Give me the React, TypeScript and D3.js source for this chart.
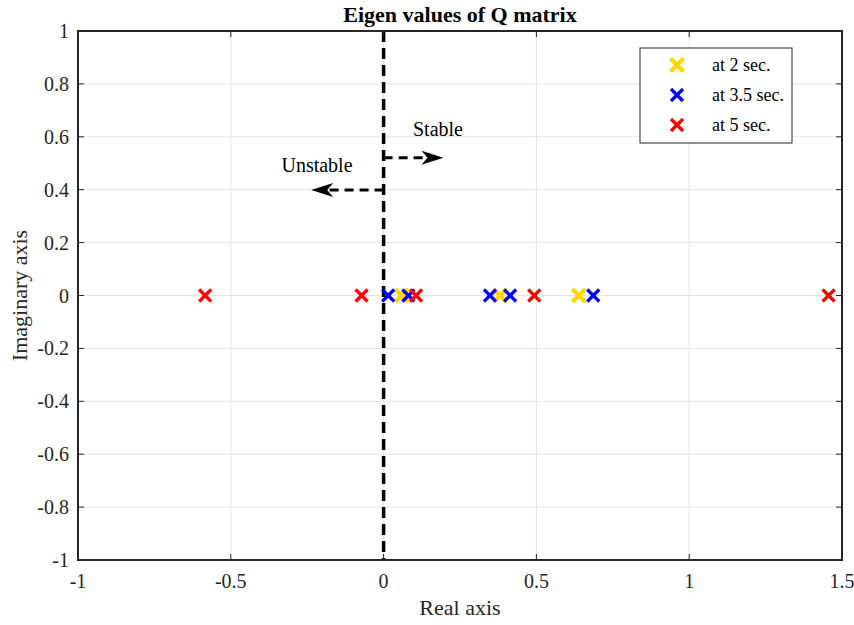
import React from "react";
import * as d3 from "d3";

// Eigenvalues (real parts; all imaginary parts are zero) at three time instants
const eig2s = [0.059, 0.381, 0.639];
const eig35s = [0.015, 0.081, 0.348, 0.414, 0.686];
const eig5s = [-0.584, -0.072, 0.106, 0.493, 1.456];

const xTicks = [-1, -0.5, 0, 0.5, 1, 1.5];
const yTicks = [-1, -0.8, -0.6, -0.4, -0.2, 0, 0.2, 0.4, 0.6, 0.8, 1];

const seriesNames = ["at 2 sec.", "at 3.5 sec.", "at 5 sec."];
const seriesColors = ["#FFD700", "#0000FF", "#FF0000"];

const W = 854;
const H = 625;
const M = { left: 78, right: 842, top: 31, bottom: 560 };
const FONT = "'Liberation Serif', 'Times New Roman', serif";

function Cross({ cx, cy, r, sw, color }: { cx: number; cy: number; r: number; sw: number; color: string }) {
  return (
    <g stroke={color} strokeWidth={sw} strokeLinecap="butt">
      <line x1={cx - r} y1={cy - r} x2={cx + r} y2={cy + r} />
      <line x1={cx - r} y1={cy + r} x2={cx + r} y2={cy - r} />
    </g>
  );
}

export default function App() {
  const x = d3.scaleLinear().domain([-1, 1.5]).range([M.left, M.right]);
  const y = d3.scaleLinear().domain([-1, 1]).range([M.bottom, M.top]);

  const series = [
    { data: eig2s, r: 6.5, sw: 4.2 },
    { data: eig35s, r: 6, sw: 3.2 },
    { data: eig5s, r: 6, sw: 3.2 },
  ];

  const arrowHead = (tipX: number, tipY: number, dir: number) => {
    // dir = 1 points right, -1 points left
    const len = 22;
    const half = 7;
    const notch = 6;
    const p = [
      [tipX, tipY],
      [tipX - dir * len, tipY - half],
      [tipX - dir * (len - notch), tipY],
      [tipX - dir * len, tipY + half],
    ];
    return <path d={"M" + p.map((q) => q.join(",")).join("L") + "Z"} fill="#000" />;
  };

  const stableY = y(0.521);
  const unstableY = y(0.399);
  const stableEnd = x(0.196);
  const unstableEnd = x(-0.237);

  return (
    <svg width={W} height={H} style={{ position: "absolute", left: 0, top: 0, background: "#fff" }}>
      <rect x={0} y={0} width={W} height={H} fill="#fff" />
      {/* grid */}
      {xTicks.map((t) => (
        <line key={"gx" + t} x1={x(t)} x2={x(t)} y1={M.top} y2={M.bottom} stroke="#e3e3e3" strokeWidth={1} />
      ))}
      {yTicks.map((t) => (
        <line key={"gy" + t} x1={M.left} x2={M.right} y1={y(t)} y2={y(t)} stroke="#e3e3e3" strokeWidth={1} />
      ))}

      {/* stability boundary */}
      <line x1={x(0)} x2={x(0)} y1={M.top} y2={M.bottom} stroke="#000" strokeWidth={3.5} strokeDasharray="11,6" />

      {/* stable / unstable arrows */}
      <line x1={x(0)} x2={stableEnd - 10} y1={stableY} y2={stableY} stroke="#000" strokeWidth={3} strokeDasharray="9,6" />
      {arrowHead(stableEnd, stableY, 1)}
      <line x1={x(0)} x2={unstableEnd + 10} y1={unstableY} y2={unstableY} stroke="#000" strokeWidth={3} strokeDasharray="9,6" />
      {arrowHead(unstableEnd, unstableY, -1)}
      <text x={438} y={136} fontFamily={FONT} fontSize={20} textAnchor="middle">Stable</text>
      <text x={317} y={172} fontFamily={FONT} fontSize={20} textAnchor="middle">Unstable</text>

      {/* markers */}
      {series.map((s, i) =>
        s.data.map((v, j) => (
          <Cross key={i + "-" + j} cx={x(v)} cy={y(0)} r={s.r} sw={s.sw} color={seriesColors[i]} />
        ))
      )}

      {/* axes box */}
      <rect x={M.left} y={M.top} width={M.right - M.left} height={M.bottom - M.top} fill="none" stroke="#262626" strokeWidth={2} />
      {xTicks.map((t) => (
        <g key={"tx" + t}>
          <line x1={x(t)} x2={x(t)} y1={M.bottom} y2={M.bottom - 6} stroke="#262626" />
          <line x1={x(t)} x2={x(t)} y1={M.top} y2={M.top + 6} stroke="#262626" />
          <text x={x(t)} y={M.bottom + 28} fontFamily={FONT} fontSize={20} textAnchor="middle" fill="#262626">
            {t}
          </text>
        </g>
      ))}
      {yTicks.map((t) => (
        <g key={"ty" + t}>
          <line x1={M.left} x2={M.left + 6} y1={y(t)} y2={y(t)} stroke="#262626" />
          <line x1={M.right} x2={M.right - 6} y1={y(t)} y2={y(t)} stroke="#262626" />
          <text x={M.left - 9} y={y(t) + 7} fontFamily={FONT} fontSize={20} textAnchor="end" fill="#262626">
            {Math.abs(t) < 1e-9 ? "0" : String(t)}
          </text>
        </g>
      ))}

      {/* titles */}
      <text x={(M.left + M.right) / 2} y={22} fontFamily={FONT} fontSize={22} fontWeight="bold" textAnchor="middle">
        Eigen values of Q matrix
      </text>
      <text x={(M.left + M.right) / 2} y={615} fontFamily={FONT} fontSize={22} textAnchor="middle" fill="#262626">
        Real axis
      </text>
      <text
        transform={`translate(27,${(M.top + M.bottom) / 2}) rotate(-90)`}
        fontFamily={FONT}
        fontSize={22}
        textAnchor="middle"
        fill="#262626"
      >
        Imaginary axis
      </text>

      {/* legend */}
      <rect x={640} y={48} width={152} height={95} fill="#fff" stroke="#262626" strokeWidth={1} />
      {seriesNames.map((n, i) => (
        <g key={n}>
          <Cross cx={677} cy={65 + i * 30} r={series[i].r} sw={series[i].sw} color={seriesColors[i]} />
          <text x={712} y={71 + i * 30} fontFamily={FONT} fontSize={18} fill="#000">
            {n}
          </text>
        </g>
      ))}
    </svg>
  );
}
